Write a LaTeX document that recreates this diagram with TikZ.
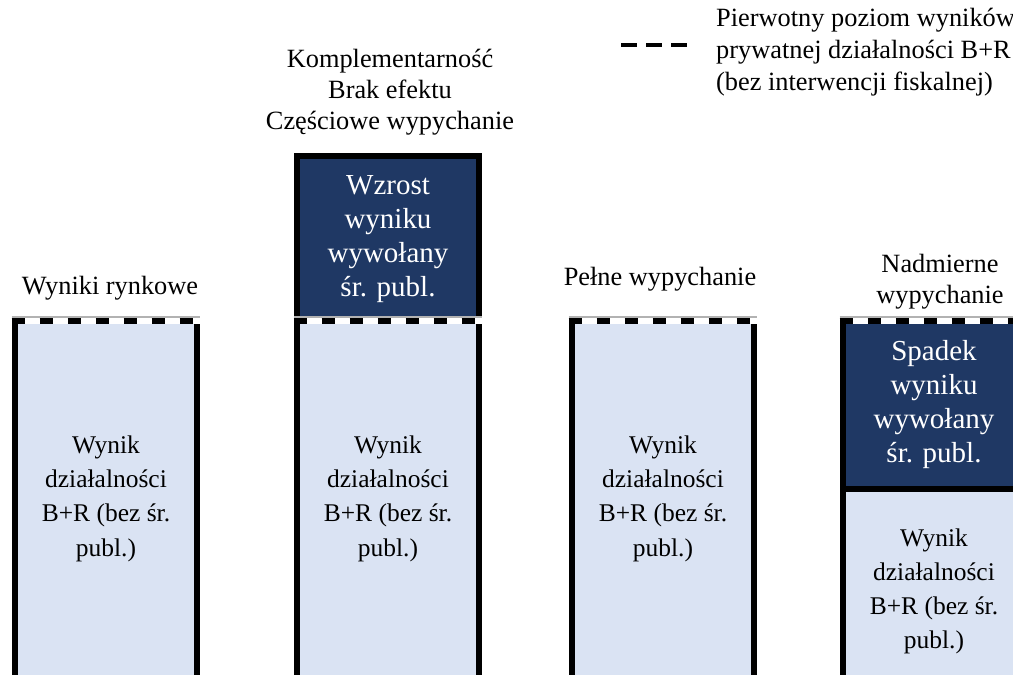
\documentclass[tikz,border=0pt]{standalone}
\usepackage{fontspec}
\setmainfont{Liberation Serif}
\usetikzlibrary{positioning}
\definecolor{darkfill}{HTML}{1F3864}
\definecolor{lightfill}{HTML}{DAE3F3}

\begin{document}
\begin{tikzpicture}[x=0.02cm, y=-0.02cm,
    lightbar/.style={fill=lightfill, minimum width=3.64cm, inner sep=0pt, anchor=north, align=center, font=\fontsize{14.5}{19.4}\selectfont},
    darkbar/.style={fill=darkfill, text=white, minimum width=3.64cm, inner sep=0pt, anchor=north, align=center, font=\fontsize{16.5}{19.4}\selectfont},
    side/.style={line width=0.12cm, line cap=rect, line join=miter},
    level/.style={line width=0.12cm, dash pattern=on 0.26cm off 0.3cm},
    gap/.style={line width=0.12cm, white},
    rim/.style={line width=0.6pt, black!30},
    heading/.style={align=center, font=\fontsize{15}{17.6}\selectfont}]
    \useasboundingbox (0,0) rectangle (1013,675);
    % market outcome
    \node[heading] (hd1) at (110,288) {Wyniki rynkowe};
    \node[lightbar, minimum height=7.1cm] (bar1) at (106,321) {Wynik\\działalności\\B+R (bez śr.\\publ.)};
    \draw[side] (bar1.north west) -- (bar1.south west);
    \draw[side] (bar1.north east) -- (bar1.south east);
    % complementarity / partial crowding out
    \node[heading] (hd2) at (390,92) {Komplementarność\\Brak efektu\\Częściowe wypychanie};
    \node[darkbar, minimum height=3.3cm] (dk2) at (388,156) {Wzrost\\wyniku\\wywołany\\śr. publ.};
    \node[lightbar, minimum height=7.1cm] (bar2) at (388,321) {Wynik\\działalności\\B+R (bez śr.\\publ.)};
    \draw[side] (dk2.south west) -- (dk2.north west) -- (dk2.north east) -- (dk2.south east);
    \draw[side] (bar2.north west) -- (bar2.south west);
    \draw[side] (bar2.north east) -- (bar2.south east);
    % full crowding out
    \node[heading] (hd3) at (660,279) {Pełne wypychanie};
    \node[lightbar, minimum height=7.1cm] (bar3) at (663,321) {Wynik\\działalności\\B+R (bez śr.\\publ.)};
    \draw[side] (bar3.north west) -- (bar3.south west);
    \draw[side] (bar3.north east) -- (bar3.south east);
    % excessive crowding out
    \node[heading] (hd4) at (940,282) {Nadmierne\\wypychanie};
    \node[darkbar, minimum height=3.34cm] (dk4) at (934,321) {Spadek\\wyniku\\wywołany\\śr. publ.};
    \node[lightbar, minimum height=4.1cm] (bar4) at (dk4.south) {Wynik\\działalności\\B+R (bez śr.\\publ.)};
    \draw[side] (dk4.north west) -- (bar4.south west);
    \draw[side] (dk4.south west) -- (dk4.south east);
    % original level of private R&D output
    \draw[rim] ([xshift=-0.06cm, yshift=0.08cm]bar1.north west) -- ([xshift=0.06cm, yshift=0.08cm]bar1.north east);
    \draw[gap] ([xshift=-0.06cm]bar1.north west) -- ([xshift=0.06cm]bar1.north east);
    \draw[level] ([xshift=-0.06cm]bar1.north west) -- ([xshift=0.06cm]bar1.north east);
    \draw[rim] ([xshift=-0.06cm, yshift=0.08cm]bar2.north west) -- ([xshift=0.06cm, yshift=0.08cm]bar2.north east);
    \draw[gap] ([xshift=-0.06cm]bar2.north west) -- ([xshift=0.06cm]bar2.north east);
    \draw[level] ([xshift=-0.06cm]bar2.north west) -- ([xshift=0.06cm]bar2.north east);
    \draw[rim] ([xshift=-0.06cm, yshift=0.08cm]bar3.north west) -- ([xshift=0.06cm, yshift=0.08cm]bar3.north east);
    \draw[gap] ([xshift=-0.06cm]bar3.north west) -- ([xshift=0.06cm]bar3.north east);
    \draw[level] ([xshift=-0.06cm]bar3.north west) -- ([xshift=0.06cm]bar3.north east);
    \draw[rim] ([xshift=-0.06cm, yshift=0.08cm]dk4.north west) -- ([xshift=0.06cm, yshift=0.08cm]dk4.north east);
    \draw[gap] ([xshift=-0.06cm]dk4.north west) -- ([xshift=0.06cm]dk4.north east);
    \draw[level] ([xshift=-0.06cm]dk4.north west) -- ([xshift=0.06cm]dk4.north east);
    % legend
    \coordinate (lg1) at (621,45);
    \coordinate (lg2) at (687,45);
    \draw[line width=0.08cm, dash pattern=on 0.32cm off 0.18cm] (lg1) -- (lg2);
    \node[anchor=west, align=left, font=\fontsize{15}{18.2}\selectfont] (legend) at (710,52) {Pierwotny poziom wyników\\prywatnej działalności B+R\\(bez interwencji fiskalnej)};
\end{tikzpicture}
\end{document}
